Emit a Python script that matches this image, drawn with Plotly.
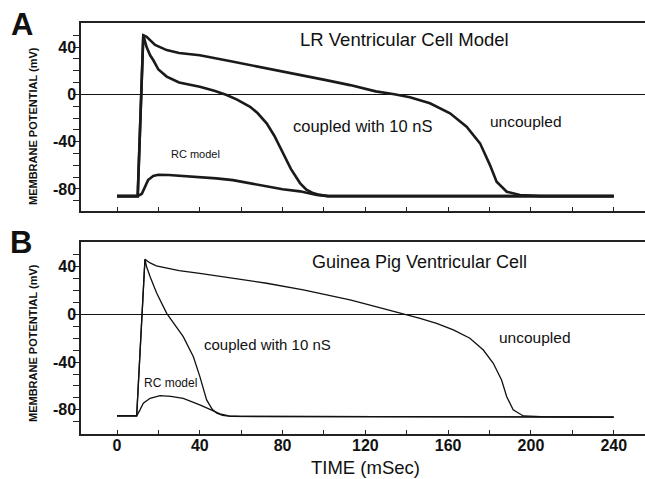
import plotly.graph_objects as go

# ---------------- data (time in ms, membrane potential in mV) ----------------
# Panel A: LR ventricular cell model
tA_unc = [0, 10, 12.7, 14.3, 18.4, 24, 30, 40, 55, 69, 85, 101, 112.6, 125, 134, 141.5, 151.2,
          160.9, 168.9, 175.4, 180.2, 183.4, 188.3, 194.7, 205, 240]
vA_unc = [-86, -86, 50, 48.7, 41.7, 37.4, 35, 33, 28, 23.3, 17.5, 12, 7.8, 2.5, 0, -2.5, -7.6,
          -16, -27.4, -41.4, -59.8, -73.9, -82.3, -85.1, -86, -86]

tA_cpl = [0, 10, 12.7, 14.3, 16, 17.5, 20, 24, 30, 40, 47, 53, 58, 64.3, 68, 72.3, 76, 80.3,
          84, 88.4, 91.5, 94.7, 98, 102, 240]
vA_cpl = [-86, -86, 50, 40, 33, 29, 21, 15, 10, 6.4, 3, -0.6, -4.5, -10.5, -16, -24.5, -35, -50,
          -63, -75, -80.5, -83.5, -85, -86, -86]

tA_rc = [0, 10, 12, 13.5, 15, 17.5, 20, 25, 30, 40, 48, 56, 64, 72.3, 80, 88.4, 93, 96.5, 102, 240]
vA_rc = [-86, -86, -84, -78, -72.5, -69, -68, -68.2, -68.7, -69.7, -71, -72.5, -75, -78, -80.2,
         -82, -84, -85, -86, -86]

# Panel B: guinea pig ventricular cell
tB_unc = [0, 9.5, 13.5, 14.3, 16, 19, 24, 30, 40, 55, 72.3, 90, 103, 112.6, 125, 135, 140, 146.4,
          154.4, 162.5, 170.5, 177, 181.8, 185.8, 188.3, 191.4, 196.3, 205, 240]
vB_unc = [-85, -85, 46, 45, 43, 40.5, 38.5, 36.5, 34.3, 30.5, 26, 20.5, 15.5, 12, 6.5, 2, 0, -3.3,
          -7.5, -13.1, -20, -29.9, -41, -55, -69, -80, -85.1, -85.7, -86]

tB_cpl = [0, 9.5, 13.5, 14.3, 16, 19.2, 24, 28, 32, 36.9, 40, 43.3, 46, 48.2, 51, 55, 240]
vB_cpl = [-85, -85, 46, 39.8, 31.5, 17.6, 0.8, -9, -18.7, -35.5, -52, -71.7, -79.5, -82.8, -84.7,
          -85.5, -86]

tB_rc = [0, 9.5, 11.1, 12.7, 16, 20.8, 26, 32, 40, 45, 49.8, 54, 60, 240]
vB_rc = [-85, -85, -80, -74.5, -70.3, -68, -68.7, -70.3, -75.9, -80, -83.4, -85, -85.5, -86]

x_major = [0, 40, 80, 120, 160, 200, 240]
x_minor = [20, 60, 100, 140, 180, 220]
y_major = [40, 0, -40, -80]
y_major_text = ["40", "0", "-40", "-80"]
y_minor = list(range(-90, 60, 10))

FONT = "Liberation Sans, Arial, Helvetica, sans-serif"
INK = "#111111"

fig = go.Figure()
for t, v in [(tA_unc, vA_unc), (tA_cpl, vA_cpl), (tA_rc, vA_rc)]:
    fig.add_trace(go.Scatter(x=t, y=v, mode="lines", xaxis="x", yaxis="y",
                             line=dict(color="#1a1a1a", width=2.6), showlegend=False,
                             hoverinfo="skip"))
for t, v in [(tB_unc, vB_unc), (tB_cpl, vB_cpl), (tB_rc, vB_rc)]:
    fig.add_trace(go.Scatter(x=t, y=v, mode="lines", xaxis="x2", yaxis="y2",
                             line=dict(color=INK, width=1.3), showlegend=False,
                             hoverinfo="skip"))

xrange = [-17.4, 255.1]
common_x = dict(range=xrange, showline=True, mirror=True, linecolor="#222", linewidth=1.5,
                ticks="inside", ticklen=4, tickcolor="#222", showgrid=False, zeroline=False)
common_y = dict(showline=True, mirror=False, linecolor="#222", linewidth=1.5,
                ticks="outside", ticklen=6, tickcolor="#222", tickwidth=1.2,
                tickvals=y_major, ticktext=y_major_text,
                minor=dict(tickvals=y_minor, ticks="outside", ticklen=6, tickcolor="#222", tickwidth=1.2),
                tickfont=dict(family=FONT, size=16, color=INK, weight="bold"),
                showgrid=False, zeroline=True, zerolinecolor=INK, zerolinewidth=1.2,
                ticklabelstandoff=-6)

fig.update_layout(
    width=645, height=479,
    margin=dict(l=81, r=0, t=23, b=45),
    paper_bgcolor="white", plot_bgcolor="white",
    xaxis=dict(common_x, domain=[0, 1], anchor="y", tickvals=x_major + x_minor,
               showticklabels=False),
    yaxis=dict(common_y, domain=[0.5426, 1.0], anchor="x", range=[-98.6, 60.3]),
    xaxis2=dict(common_x, domain=[0, 1], anchor="y2", tickvals=x_major,
                ticktext=[str(v) for v in x_major],
                minor=dict(tickvals=x_minor, ticks="inside", ticklen=4, tickcolor="#222"),
                tickfont=dict(family=FONT, size=16, color=INK, weight="bold"),
                ticklabelstandoff=-4),
    yaxis2=dict(common_y, domain=[0, 0.4679], anchor="x2", range=[-100.2, 60.8]),
)

ann = []
def txt(text, x, y, size, xref, yref, bold=False, angle=0):
    ann.append(dict(text=text, x=x, y=y, xref=xref, yref=yref, showarrow=False,
                    xanchor="center", yanchor="middle", textangle=angle,
                    font=dict(family=FONT, size=size, color=INK,
                              weight="bold" if bold else "normal")))

# in-plot labels (data coordinates)
txt("LR Ventricular Cell Model", 139.1, 46.3, 18.5, "x", "y")
txt("coupled with 10 nS", 118.8, -26.8, 16.5, "x", "y")
txt("uncoupled", 197.8, -23, 15.5, "x", "y")
txt("RC model", 37.7, -50.5, 11, "x", "y")
txt("Guinea Pig Ventricular Cell", 146.1, 43.8, 18, "x2", "y2")
txt("coupled with 10 nS", 72.7, -24.9, 15, "x2", "y2")
txt("uncoupled", 201.9, -19.4, 15.5, "x2", "y2")
txt("RC model", 25.6, -57.5, 12, "x2", "y2")

# outside labels (paper coordinates)
def px(x):
    return (x - 81) / 564
def py(y):
    return (434 - y) / 411

txt("A", px(21.5), py(24), 31, "paper", "paper", bold=True)
txt("B", px(21), py(242.5), 31, "paper", "paper", bold=True)
txt("MEMBRANE POTENTIAL (mV)", px(33), py(126), 11, "paper", "paper", bold=True, angle=-90)
txt("MEMBRANE POTENTIAL (mV)", px(33), py(343), 11, "paper", "paper", bold=True, angle=-90)
txt("TIME (mSec)", px(365), py(468), 18.5, "paper", "paper")

fig.update_layout(annotations=ann)
fig.write_html("out.html")
